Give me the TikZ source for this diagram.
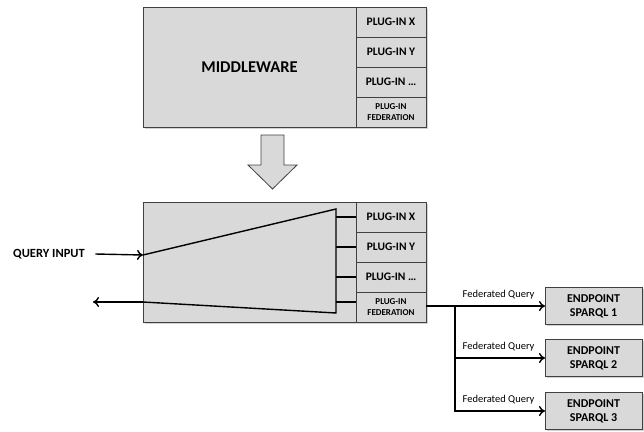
\documentclass[tikz,border=0pt]{standalone}
\usepackage{fontspec}
\setmainfont{Carlito}
\usetikzlibrary{positioning,shadows,arrows.meta}

\begin{document}
\begin{tikzpicture}[x=1pt,y=1pt,>={To[length=6pt,width=10pt]}]
                \tikzstyle{box}=[draw=black!75, fill=black!15, line width=0.8pt, inner sep=0pt, outer sep=0pt, align=center, drop shadow={shadow xshift=1.5pt, shadow yshift=-1.5pt, opacity=0.35}]
                \tikzstyle{mwbox}=[box, minimum width=213pt, minimum height=120pt, font=\bfseries\fontsize{16.5}{18}\selectfont]
                \tikzstyle{plugin}=[box, minimum width=70pt, minimum height=30pt, font=\bfseries\fontsize{11.5}{12}\selectfont]
                \tikzstyle{fedplugin}=[plugin, font=\bfseries\fontsize{9}{10.5}\selectfont]
                \tikzstyle{endp}=[box, minimum width=97pt, minimum height=37pt, font=\bfseries\fontsize{12}{14}\selectfont]
                \tikzstyle{wire}=[line width=1.4pt]
                \useasboundingbox (0,0) rectangle (644,-431);
                % before
                \node[mwbox]    (mw)    at (249.5,-67)                                  {MIDDLEWARE};
                \node[plugin]   (pxa)   [below right=0pt and 0pt of mw.north east]      {PLUG-IN X};
                \node[plugin]   (pya)   [below=0pt of pxa]                              {PLUG-IN Y};
                \node[plugin]   (pza)   [below=0pt of pya]                              {PLUG-IN \dots};
                \node[fedplugin] (pfa)  [below=0pt of pza]                              {PLUG-IN\\FEDERATION};
                % block arrow
                \filldraw[draw=black!75, fill=black!15, line width=0.8pt]
                    (261,-135) -- (284,-135) -- (284,-165) -- (297,-165) -- (272.5,-189)
                    -- (248,-165) -- (261,-165) -- cycle;
                % after
                \node[mwbox]    (mwb)   [below=75pt of mw]                              {};
                \node[plugin]   (pxb)   [below right=0pt and 0pt of mwb.north east]     {PLUG-IN X};
                \node[plugin]   (pyb)   [below=0pt of pxb]                              {PLUG-IN Y};
                \node[plugin]   (pzb)   [below=0pt of pyb]                              {PLUG-IN \dots};
                \node[fedplugin] (pfb)  [below=0pt of pzb]                              {PLUG-IN\\FEDERATION};
                \coordinate (tin)  at (143,-255);
                \coordinate (tout) at (143,-302);
                \coordinate (ttop) at (336,-209);
                \coordinate (tbot) at (336,-313);
                \coordinate (qout) at (93,-302);
                \draw[wire] (tin) -- (ttop) -- (tbot) -- (tout);
                \draw[wire] (pxb.west) -- (pxb.west -| ttop);
                \draw[wire] (pyb.west) -- (pyb.west -| ttop);
                \draw[wire] (pzb.west) -- (pzb.west -| ttop);
                \draw[wire] ([yshift=5pt]pfb.west) -- ([yshift=5pt]pfb.west -| ttop);
                \node[font=\bfseries\fontsize{12.5}{14}\selectfont] (qin) at (49,-254)  {QUERY INPUT};
                \draw[wire,->] ([xshift=7pt]qin.east) -- (tin);
                \draw[wire,->] (tout) -- (qout);
                % endpoints
                \node[endp]     (ep1)   at (593.5,-306)                                 {ENDPOINT\\SPARQL 1};
                \node[endp]     (ep2)   [below=15pt of ep1]                             {ENDPOINT\\SPARQL 2};
                \node[endp]     (ep3)   [below=16pt of ep2]                             {ENDPOINT\\SPARQL 3};
                \coordinate (br) at (455,-306);
                \draw[wire,->] (pfb.east |- ep1.west) -- (ep1.west);
                \draw[wire,->] (br) |- (ep2.west);
                \draw[wire,->] (br) |- (ep3.west);
                \node[font=\fontsize{10.5}{12}\selectfont] (fq1) [above left=3pt and 7pt of ep1.west] {Federated Query};
                \node[font=\fontsize{10.5}{12}\selectfont] (fq2) [above left=3pt and 7pt of ep2.west] {Federated Query};
                \node[font=\fontsize{10.5}{12}\selectfont] (fq3) [above left=3pt and 7pt of ep3.west] {Federated Query};
            \end{tikzpicture}
\end{document}
